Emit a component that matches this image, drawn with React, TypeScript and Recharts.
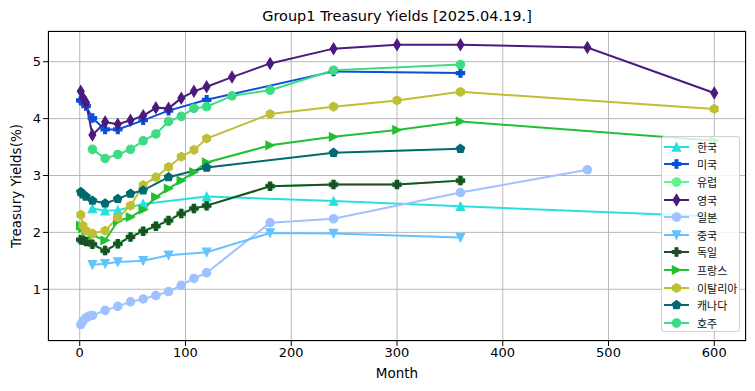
import React from "react";
import { LineChart, Line, XAxis, YAxis, CartesianGrid } from "recharts";

const krMonths = [12, 24, 36, 60, 120, 240, 360, 600];
const krYields = [2.42, 2.38, 2.39, 2.5, 2.63, 2.55, 2.46, 2.28];

const usMonths = [1, 2, 3, 4, 6, 12, 24, 36, 60, 84, 120, 240, 360];
const usYields = [4.32, 4.32, 4.31, 4.28, 4.22, 4.01, 3.81, 3.81, 3.97, 4.14, 4.33, 4.83, 4.8];

const euMonths = [1, 3, 6, 12, 24, 36, 48, 60, 72, 84, 96, 108, 120, 180, 240, 300, 360];
const euYields = [1.87, 1.86, 1.84, 1.79, 1.68, 1.8, 1.92, 2.02, 2.11, 2.21, 2.33, 2.42, 2.47, 2.81, 2.84, 2.84, 2.91];

const ukMonths = [1, 3, 6, 12, 24, 36, 48, 60, 72, 84, 96, 108, 120, 144, 180, 240, 300, 360, 480, 600];
const ukYields = [4.48, 4.37, 4.28, 3.71, 3.94, 3.9, 3.97, 4.05, 4.19, 4.18, 4.36, 4.48, 4.56, 4.73, 4.97, 5.23, 5.3, 5.3, 5.25, 4.45];

const jpMonths = [1, 3, 6, 9, 12, 24, 36, 48, 60, 72, 84, 96, 108, 120, 180, 240, 360, 480];
const jpYields = [0.38, 0.44, 0.5, 0.53, 0.54, 0.63, 0.7, 0.78, 0.83, 0.89, 0.96, 1.07, 1.19, 1.29, 2.17, 2.24, 2.7, 3.1];

const cnMonths = [12, 24, 36, 60, 84, 120, 180, 240, 360];
const cnYields = [1.43, 1.45, 1.48, 1.5, 1.6, 1.65, 1.99, 1.98, 1.91];

const deMonths = [1, 3, 6, 12, 24, 36, 48, 60, 72, 84, 96, 108, 120, 180, 240, 300, 360];
const deYields = [1.87, 1.86, 1.84, 1.79, 1.68, 1.8, 1.92, 2.02, 2.11, 2.21, 2.33, 2.42, 2.47, 2.81, 2.84, 2.84, 2.91];

const frMonths = [1, 3, 6, 12, 24, 36, 48, 60, 72, 84, 96, 108, 120, 180, 240, 300, 360, 600];
const frYields = [2.12, 2.08, 2.02, 1.95, 1.86, 2.2, 2.27, 2.4, 2.62, 2.77, 2.91, 3.06, 3.23, 3.53, 3.68, 3.8, 3.95, 3.61];

const itMonths = [1, 3, 6, 12, 24, 36, 48, 60, 72, 84, 96, 108, 120, 180, 240, 300, 360, 600];
const itYields = [2.31, 2.12, 2.03, 1.98, 2.03, 2.26, 2.47, 2.83, 2.97, 3.15, 3.33, 3.45, 3.65, 4.08, 4.21, 4.32, 4.47, 4.17];

const caMonths = [1, 3, 6, 12, 24, 36, 48, 60, 84, 120, 240, 360];
const caYields = [2.71, 2.67, 2.63, 2.56, 2.51, 2.59, 2.68, 2.74, 2.97, 3.14, 3.4, 3.47];

const auMonths = [12, 24, 36, 48, 60, 72, 84, 96, 108, 120, 144, 180, 240, 360];
const auYields = [3.46, 3.3, 3.37, 3.46, 3.61, 3.73, 3.95, 4.04, 4.18, 4.21, 4.4, 4.5, 4.85, 4.95];

const xTicks = [0, 100, 200, 300, 400, 500, 600];
const yTicks = [1, 2, 3, 4, 5];

type Shape = "^" | "P" | "o" | "d" | "v" | ">" | "h" | "p";

const series: { name: string; color: string; shape: Shape; months: number[]; yields: number[] }[] = [
  { name: "한국", color: "#27e0de", shape: "^", months: krMonths, yields: krYields },
  { name: "미국", color: "#0a4fd8", shape: "P", months: usMonths, yields: usYields },
  { name: "유럽", color: "#5df58d", shape: "o", months: euMonths, yields: euYields },
  { name: "영국", color: "#4b1a7e", shape: "d", months: ukMonths, yields: ukYields },
  { name: "일본", color: "#a0c1ff", shape: "o", months: jpMonths, yields: jpYields },
  { name: "중국", color: "#64c3ff", shape: "v", months: cnMonths, yields: cnYields },
  { name: "독일", color: "#1f4d24", shape: "P", months: deMonths, yields: deYields },
  { name: "프랑스", color: "#22bf35", shape: ">", months: frMonths, yields: frYields },
  { name: "이탈리아", color: "#bfbf35", shape: "h", months: itMonths, yields: itYields },
  { name: "캐나다", color: "#006a70", shape: "p", months: caMonths, yields: caYields },
  { name: "호주", color: "#3ddc84", shape: "o", months: auMonths, yields: auYields },
];

function polygon(cx: number, cy: number, r: number, n: number) {
  const pts: string[] = [];
  for (let i = 0; i < n; i++) {
    const a = -Math.PI / 2 + (i * 2 * Math.PI) / n;
    pts.push(`${cx + r * Math.cos(a)},${cy + r * Math.sin(a)}`);
  }
  return pts.join(" ");
}

function Marker({ cx, cy, shape, color }: { cx: number; cy: number; shape: Shape; color: string }) {
  const s = 8.3;
  const h = s / 2;
  const common = { fill: color, stroke: color, strokeWidth: 1.2 };
  switch (shape) {
    case "o":
      return <circle cx={cx} cy={cy} r={4.2} {...common} />;
    case "^":
      return <polygon points={`${cx},${cy - h} ${cx - h},${cy + h} ${cx + h},${cy + h}`} {...common} />;
    case "v":
      return <polygon points={`${cx},${cy + h} ${cx - h},${cy - h} ${cx + h},${cy - h}`} {...common} />;
    case ">":
      return <polygon points={`${cx + h},${cy} ${cx - h},${cy - h} ${cx - h},${cy + h}`} {...common} />;
    case "d":
      return <polygon points={`${cx},${cy - 5.6} ${cx + 3.4},${cy} ${cx},${cy + 5.6} ${cx - 3.4},${cy}`} {...common} />;
    case "P": {
      const t = 1.45;
      const pts = [
        [-t, -h], [t, -h], [t, -t], [h, -t], [h, t], [t, t],
        [t, h], [-t, h], [-t, t], [-h, t], [-h, -t], [-t, -t],
      ].map(([x, y]) => `${cx + x},${cy + y}`).join(" ");
      return <polygon points={pts} {...common} />;
    }
    case "h":
      return <polygon points={polygon(cx, cy, 4.4, 6)} {...common} />;
    case "p":
      return <polygon points={polygon(cx, cy, 4.4, 5)} {...common} />;
  }
  return null;
}

const dotFor = (shape: Shape, color: string) => (props: any) => {
  const { cx, cy, index } = props;
  if (cx == null || cy == null) return <g key={index} />;
  return (
    <g key={index}>
      <Marker cx={cx} cy={cy} shape={shape} color={color} />
    </g>
  );
};

function LegendBox() {
  return (
    <div
      style={{
        position: "absolute",
        left: 661,
        top: 136,
        width: 79,
        height: 196,
        background: "rgba(255,255,255,0.8)",
        border: "1px solid #d0d0d0",
        borderRadius: 3,
        padding: "1px 0 0 0",
        boxSizing: "border-box",
      }}
    >
      {series.map((s) => (
        <div key={s.name} style={{ display: "flex", alignItems: "center", height: 17.6 }}>
          <svg width={35} height={14} style={{ flex: "none" }}>
            <line x1={2} y1={7} x2={27} y2={7} stroke={s.color} strokeWidth={2} />
            <Marker cx={14.5} cy={7} shape={s.shape} color={s.color} />
          </svg>
          <span
            style={{
              fontFamily: "'Noto Sans CJK KR', sans-serif",
              fontSize: 11,
              lineHeight: "14px",
              color: "#111",
              whiteSpace: "nowrap",
            }}
          >
            {s.name}
          </span>
        </div>
      ))}
    </div>
  );
}

export default function App() {
  const font = "'DejaVu Sans', sans-serif";
  return (
    <div style={{ position: "fixed", left: 0, top: 0, width: 755, height: 391, background: "#fff", fontFamily: font }}>
      <div
        style={{
          position: "absolute",
          top: 8,
          left: 48,
          width: 698,
          textAlign: "center",
          fontSize: 14.5,
          color: "#000",
        }}
      >
        Group1 Treasury Yields [2025.04.19.]
      </div>
      <LineChart width={755} height={391} margin={{ top: 31, right: 9, bottom: 0, left: 0 }}>
        <CartesianGrid stroke="#b0b0b0" strokeWidth={0.9} />
        <XAxis
          type="number"
          dataKey="m"
          domain={[-30, 630]}
          ticks={xTicks}
          allowDataOverflow
          height={50}
          axisLine={false}
          tickLine={{ stroke: "#000" }}
          tickSize={5}
          tick={{ fill: "#000", fontSize: 13, fontFamily: font }}
          label={{ value: "Month", position: "insideBottom", offset: 13, fill: "#000", fontSize: 13.5, fontFamily: font }}
        />
        <YAxis
          type="number"
          dataKey="y"
          domain={[0.091, 5.54]}
          ticks={yTicks}
          allowDataOverflow
          width={48}
          axisLine={false}
          tickLine={{ stroke: "#000" }}
          tickSize={5}
          tick={{ fill: "#000", fontSize: 13, fontFamily: font }}
          label={{ value: "Treasury Yields(%)", angle: -90, position: "insideLeft", offset: 16, fill: "#000", fontSize: 13.5, fontFamily: font, style: { textAnchor: "middle" } }}
        />
        {series.map((s) => (
          <Line
            key={s.name}
            name={s.name}
            data={s.months.map((m, i) => ({ m, y: s.yields[i] }))}
            dataKey="y"
            stroke={s.color}
            strokeWidth={2}
            dot={dotFor(s.shape, s.color)}
            activeDot={false}
            isAnimationActive={false}
          />
        ))}
      </LineChart>
      <div
        style={{
          position: "absolute",
          left: 48,
          top: 31,
          width: 698,
          height: 310,
          border: "1px solid #000",
          boxSizing: "border-box",
          pointerEvents: "none",
        }}
      />
      <LegendBox />
    </div>
  );
}
